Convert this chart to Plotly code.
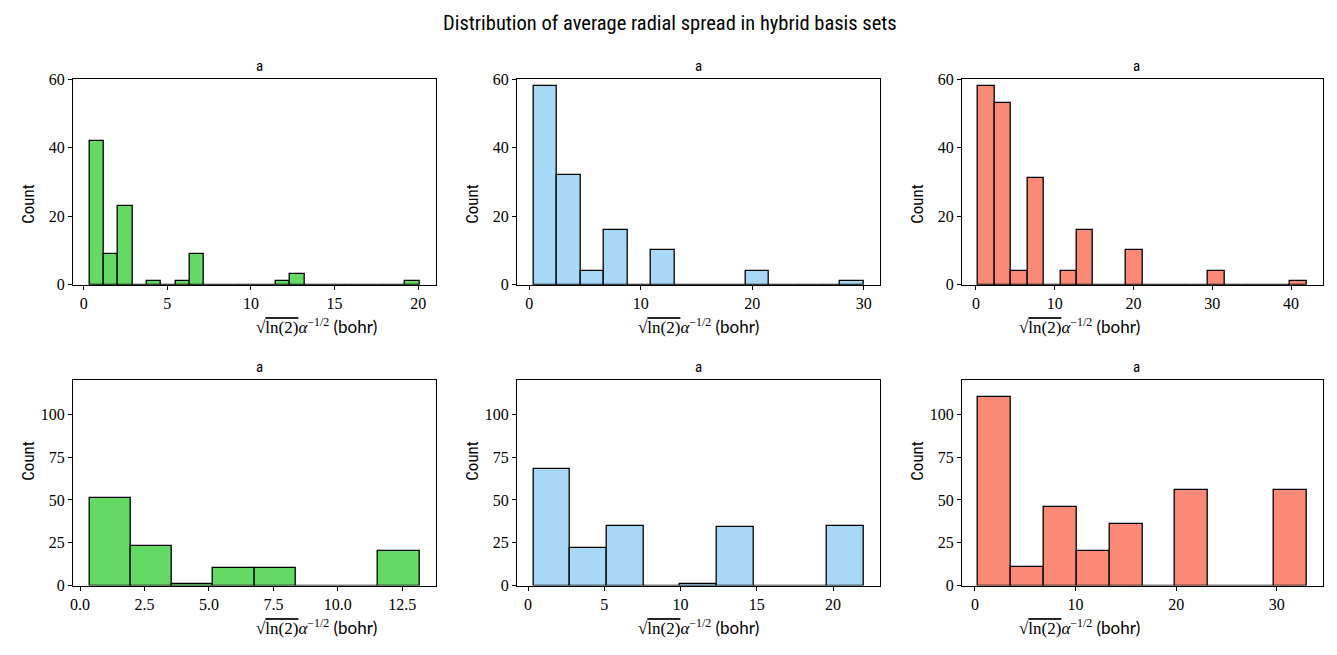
import numpy as np
import plotly.graph_objects as go

# ---- data ----
panel_titles = ["a", "a", "a", "a", "a", "a"]
bin_min = [0.34, 0.36, 0.29, 0.36, 0.35, 0.33]
bin_max = [20.08, 29.97, 41.98, 13.17, 22.0, 32.96]
n_bins = [23, 14, 20, 8, 9, 10]
counts_tl = [42, 9, 23, 0, 1, 0, 1, 9, 0, 0, 0, 0, 0, 1, 3, 0, 0, 0, 0, 0, 0, 0, 1]
counts_tm = [58, 32, 4, 16, 0, 10, 0, 0, 0, 4, 0, 0, 0, 1]
counts_tr = [58, 53, 4, 31, 0, 4, 16, 0, 0, 10, 0, 0, 0, 0, 4, 0, 0, 0, 0, 1]
counts_bl = [51, 23, 1, 10, 10, 0, 0, 20]
counts_bm = [68, 22, 35, 0, 1, 34, 0, 0, 35]
counts_br = [110, 11, 46, 20, 36, 0, 56, 0, 0, 56]
all_counts = [counts_tl, counts_tm, counts_tr, counts_bl, counts_bm, counts_br]
colors = ["#64d964", "#a7d9f7", "#fa8a76", "#64d964", "#a7d9f7", "#fa8a76"]
y_limits = [60, 60, 60, 120, 120, 120]
y_ticks = [[0, 20, 40, 60]] * 3 + [[0, 25, 50, 75, 100]] * 3
x_ticks = [[0, 5, 10, 15, 20], [0, 10, 20, 30], [0, 10, 20, 30, 40],
           [0, 2.5, 5, 7.5, 10, 12.5], [0, 5, 10, 15, 20], [0, 10, 20, 30]]
x_ticktext = [None, None, None, ["0.0", "2.5", "5.0", "7.5", "10.0", "12.5"], None, None]

W, H = 1337, 655
col_px = [(70, 434), (515, 879), (961, 1323)]
row_px = [(73, 284), (382, 593)]

fig = go.Figure()
sans = "Liberation Sans Narrow, Roboto Condensed, Lato"
serif = "Liberation Serif"
xlabel = ("√<span style='text-decoration:overline'>ln(2)</span><i>α</i><sup>−1/2</sup> "
          "<span style='font-family:Liberation Sans Narrow, Lato'>(bohr)</span>")

for i in range(6):
    r, c = divmod(i, 3)
    edges = np.linspace(bin_min[i], bin_max[i], n_bins[i] + 1)
    centers = (edges[:-1] + edges[1:]) / 2
    width = edges[1] - edges[0]
    ax = "" if i == 0 else str(i + 1)
    fig.add_trace(go.Bar(
        x=centers, y=all_counts[i], width=width,
        marker=dict(color=colors[i], line=dict(color="black", width=1.3)),
        xaxis="x" + ax, yaxis="y" + ax, showlegend=False, hoverinfo="x+y"))
    span = bin_max[i] - bin_min[i]
    xr = [bin_min[i] - 0.05 * span, bin_max[i] + 0.05 * span]
    x0, x1 = col_px[c]
    ytop, ybot = row_px[r]
    xa = dict(domain=[x0 / W, x1 / W], range=xr, anchor="y" + ax,
              showline=True, linecolor="black", linewidth=1, mirror=True,
              ticks="outside", ticklen=4, tickcolor="black", showgrid=False, zeroline=False,
              tickvals=x_ticks[i], tickfont=dict(family=serif, size=16, color="black"))
    if x_ticktext[i]:
        xa["ticktext"] = x_ticktext[i]
    ya = dict(domain=[1 - ybot / H, 1 - ytop / H], range=[0, y_limits[i]], anchor="x" + ax,
              showline=True, linecolor="black", linewidth=1, mirror=True,
              ticks="outside", ticklen=4, tickcolor="black", showgrid=False, zeroline=False,
              tickvals=y_ticks[i], tickfont=dict(family=serif, size=16, color="black"))
    fig.layout["xaxis" + ax] = xa
    fig.layout["yaxis" + ax] = ya
    fig.add_annotation(text=panel_titles[i], x=(x0 + x1) / 2 / W, y=1 - (ytop - 13) / H,
                       xref="paper", yref="paper", showarrow=False,
                       font=dict(family=sans, size=15, color="black"), yanchor="middle")
    fig.add_annotation(text=xlabel, x=(x0 + x1) / 2 / W, y=1 - (ybot + 42) / H,
                       xref="paper", yref="paper", showarrow=False,
                       font=dict(family=serif, size=17, color="black"), yanchor="middle")
    fig.add_annotation(text="Count", x=(x0 - 45) / W, y=1 - (ytop + ybot) / 2 / H,
                       xref="paper", yref="paper", showarrow=False, textangle=-90,
                       font=dict(family=sans, size=17, color="black"), xanchor="center")

fig.add_annotation(text="Distribution of average radial spread in hybrid basis sets",
                   x=0.5, y=1 - 15 / H, xref="paper", yref="paper", showarrow=False,
                   font=dict(family=sans, size=20.5, color="black"), yanchor="middle")

fig.update_layout(width=W, height=H, margin=dict(l=0, r=0, t=0, b=0),
                  plot_bgcolor="white", paper_bgcolor="white", bargap=0)
fig.write_html("out.html")
